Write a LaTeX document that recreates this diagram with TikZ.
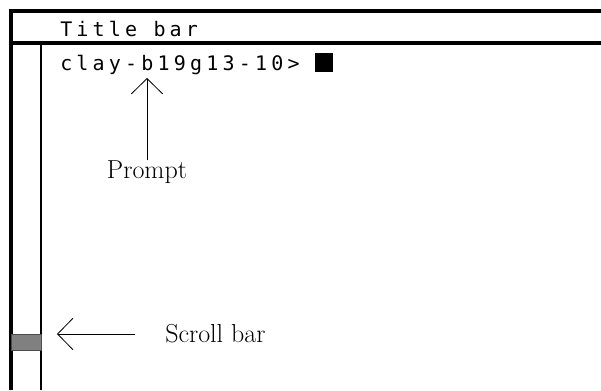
\documentclass[tikz,border=0pt]{standalone}
\usepackage{fontspec}
\usepackage{tikz}
\usetikzlibrary{
  arrows.meta,
  positioning
}
\newfontfamily\termfont[LetterSpace=21]{DejaVu Sans Mono}
\tikzset{
  frame line/.style={line width=2.5pt},
  term text/.style={inner sep=0pt,anchor=base west,font=\termfont\fontsize{15}{18}\selectfont},
  label text/.style={inner sep=0pt,font=\fontsize{19.5}{23}\selectfont},
  pointer/.style={line width=0.6pt,-{Straight Barb[length=11.5pt,width=23.5pt,line width=0.6pt]}},
}
\colorlet{thumb}{black!50}

\begin{document}
\begin{tikzpicture}[x=0.75pt,y=-0.75pt]
\useasboundingbox (0,0) rectangle (601,390);
\draw[frame line] (601,11) -- (11,11) -- (11,390);
\draw[line width=3.2pt] (11,43) -- (601,43);
\draw[line width=2pt] (41,43) -- (41,390);
\draw[fill=thumb,draw=black!70,line width=0.5pt] (11,334) rectangle (41,350);
\node[term text] (title) at (60,36) {Title bar};
\node[term text] (cmd) at (60,70) {clay-b19g13-10>};
\fill (315,53) rectangle (333,72);
\node[label text] (prompt) at (147,172) {Prompt};
\coordinate (prompttip) at (147,78);
\draw[pointer] (prompt.north) -- (prompttip);
\node[label text,anchor=west] (scroll) at (165,334) {Scroll bar};
\coordinate (scrolltip) at (57,334);
\coordinate (scrolltail) at (135,334);
\draw[pointer] (scrolltail) -- (scrolltip);
\end{tikzpicture}
\end{document}
